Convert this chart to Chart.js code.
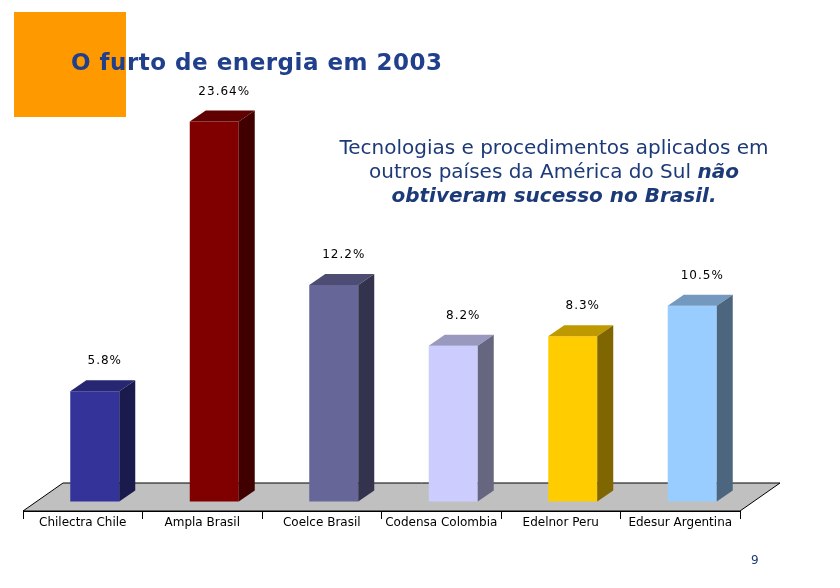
<!DOCTYPE html>
<html>
<head>
<meta charset="utf-8">
<script src="https://cdn.jsdelivr.net/npm/chart.js@4"></script>
<style>
  body { margin: 0; background: #fff; }
  #wrap { position: relative; width: 840px; height: 588px; overflow: hidden; }
  #myChart { position: absolute; left: 0; top: 0; }
  .orange { position: absolute; left: 14px; top: 12px; width: 112px; height: 105px; background: #ff9900; }
  .title { position: absolute; left: 71px; top: 49px; font: bold 23px "DejaVu Sans", sans-serif; letter-spacing: 0.5px; color: #203f8c; white-space: nowrap; }
  .note { position: absolute; left: 314px; width: 480px; top: 135px; text-align: center; font: 20px/24px "DejaVu Sans", sans-serif; color: #1d3a78; }
  .note b { font-style: italic; }
  .page { position: absolute; left: 751px; top: 553px; font: 12px "DejaVu Sans", sans-serif; color: #1d3a78; }
</style>
</head>
<body>
<div id="wrap">
  <div class="orange"></div>
  <canvas id="myChart" width="840" height="588"></canvas>
  <div class="title">O furto de energia em 2003</div>
  <div class="note">Tecnologias e procedimentos aplicados em<br>outros países da América do Sul <b>não<br>obtiveram sucesso no Brasil.</b></div>
  <div class="page">9</div>
</div>
<script>
// data
const companies = ['Chilectra Chile', 'Ampla Brasil', 'Coelce Brasil', 'Codensa Colombia', 'Edelnor Peru', 'Edesur Argentina'];
const barHeights = [5.8, 20.0, 11.4, 8.2, 8.7, 10.3];
const valueLabels = ['5.8%', '23.64%', '12.2%', '8.2%', '8.3%', '10.5%'];

const frontColors = ['#333399', '#800000', '#666699', '#ccccff', '#ffcc00', '#99ccff'];
const topColors   = ['#262673', '#600000', '#4d4d73', '#9999bf', '#bf9900', '#7399bf'];
const sideColors  = ['#1a1a4d', '#400000', '#33334d', '#666680', '#806600', '#4d6680'];

const depthX = 16, depthY = 11;   // bar depth
const floorX = 40, floorY = 28;   // floor depth
const shift = 12;                 // bars sit in the middle of the floor

const threeD = {
    id: 'threeD',
    beforeDraw: (chart) => {
        const {ctx, chartArea: {left, right, bottom}} = chart;
        ctx.save();
        ctx.beginPath();
        ctx.moveTo(left, bottom);
        ctx.lineTo(right, bottom);
        ctx.lineTo(right + floorX, bottom - floorY);
        ctx.lineTo(left + floorX, bottom - floorY);
        ctx.closePath();
        ctx.fillStyle = '#c0c0c0';
        ctx.fill();
        ctx.strokeStyle = '#000';
        ctx.lineWidth = 1;
        ctx.stroke();
        ctx.restore();
    },
    beforeDatasetsDraw: (chart) => {
        chart.ctx.save();
        chart.ctx.translate(shift, 0);
    },
    afterDatasetsDraw: (chart) => {
        const ctx = chart.ctx;
        chart.getDatasetMeta(0).data.forEach((bar, i) => {
            const x0 = bar.x - bar.width / 2, x1 = bar.x + bar.width / 2;
            const y = bar.y, base = bar.base;
            // top face
            ctx.beginPath();
            ctx.moveTo(x0, y);
            ctx.lineTo(x1, y);
            ctx.lineTo(x1 + depthX, y - depthY);
            ctx.lineTo(x0 + depthX, y - depthY);
            ctx.closePath();
            ctx.fillStyle = topColors[i];
            ctx.fill();
            // side face
            ctx.beginPath();
            ctx.moveTo(x1, y);
            ctx.lineTo(x1 + depthX, y - depthY);
            ctx.lineTo(x1 + depthX, base - depthY);
            ctx.lineTo(x1, base);
            ctx.closePath();
            ctx.fillStyle = sideColors[i];
            ctx.fill();
            // value label
            ctx.font = '12px "DejaVu Sans"';
            ctx.letterSpacing = '1px';
            ctx.fillStyle = '#000';
            ctx.textAlign = 'center';
            ctx.textBaseline = 'middle';
            ctx.fillText(valueLabels[i], bar.x + 10, y - 30);
        });
        ctx.restore();
    }
};

const config = {
    type: 'bar',
    data: {
        labels: companies,
        datasets: [{
            data: barHeights,
            backgroundColor: frontColors,
            borderWidth: 0,
            categoryPercentage: 1,
            barPercentage: 0.41
        }]
    },
    options: {
        responsive: false,
        animation: false,
        events: [],
        layout: { padding: { left: 23, right: 100, top: 83.5, bottom: 0 } },
        plugins: { legend: { display: false }, tooltip: { enabled: false } },
        scales: {
            x: {
                afterFit: (scale) => { scale.height = 77; },
                grid: { offset: true, drawOnChartArea: false, drawTicks: true, tickLength: 8, color: '#000' },
                border: { display: true, color: '#000' },
                ticks: { font: { family: 'DejaVu Sans', size: 12 }, color: '#000', padding: -3, maxRotation: 0, autoSkip: false }
            },
            y: {
                display: false,
                min: -0.5,
                max: 22
            }
        }
    },
    plugins: [threeD]
};

const myChart = new Chart(document.getElementById('myChart'), config);
</script>
</body>
</html>
